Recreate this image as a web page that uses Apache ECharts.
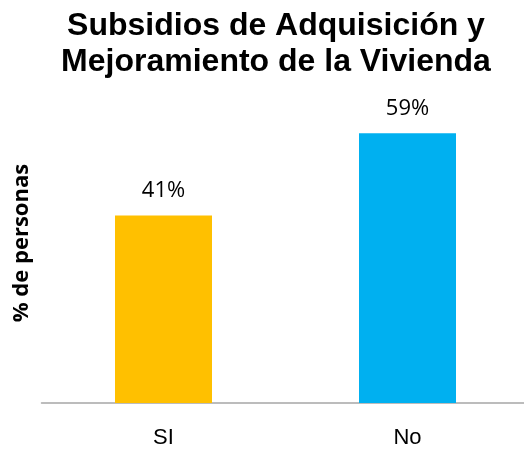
<!DOCTYPE html>
<html>
<head>
<meta charset="utf-8">
<script src="https://cdn.jsdelivr.net/npm/echarts@6/dist/echarts.min.js"></script>
<style>
html, body {margin:0; padding:0; background:#fff; overflow:hidden;}
#wrap {width:524px; height:449px; overflow:hidden;}
#chart {width:530px; height:449px;}
</style>
</head>
<body>
<div id="wrap"><div id="chart"></div></div>
<script type="text/javascript">
	var categories = ['SI', 'No'];
	var values = [41, 59];
	var barColors = ['#FFC000', '#00B0F0'];

	var myChart = echarts.init(document.getElementById('chart'));
	var option = {
		animation: false,
		title: {
			text: 'Subsidios de Adquisición y\nMejoramiento de la Vivienda',
			left: 271,
			textAlign: 'center',
			top: 3,
			textStyle: {
				fontFamily: 'Liberation Sans',
				fontWeight: 'bold',
				fontSize: 32,
				lineHeight: 36,
				color: '#000'
			}
		},
		grid: {left: 41.5, width: 488, top: 83, bottom: 43},
		xAxis: {
			type: 'category',
			data: categories,
			axisLine: {lineStyle: {color: '#a6a6a6', width: 1.5}},
			axisTick: {show: false},
			axisLabel: {
				margin: 24,
				fontFamily: 'Liberation Sans',
				fontSize: 22,
				color: '#000'
			}
		},
		yAxis: {
			type: 'value',
			min: 0,
			max: 70,
			name: '% de personas',
			nameLocation: 'middle',
			nameGap: 9,
			nameTextStyle: {
				fontFamily: 'Open Sans',
				fontWeight: 'bold',
				fontSize: 22,
				color: '#000'
			},
			axisLine: {show: false},
			axisTick: {show: false},
			axisLabel: {show: false},
			splitLine: {show: false}
		},
		series: [{
			type: 'bar',
			barWidth: 97,
			data: values.map(function (v, i) {
				return {value: v, itemStyle: {color: barColors[i]}};
			}),
			label: {
				show: true,
				position: 'top',
				distance: 14,
				formatter: '{c}%',
				fontFamily: 'Open Sans',
				fontSize: 22,
				color: '#000'
			}
		}]
	};
	myChart.setOption(option);
</script>
</body>
</html>
